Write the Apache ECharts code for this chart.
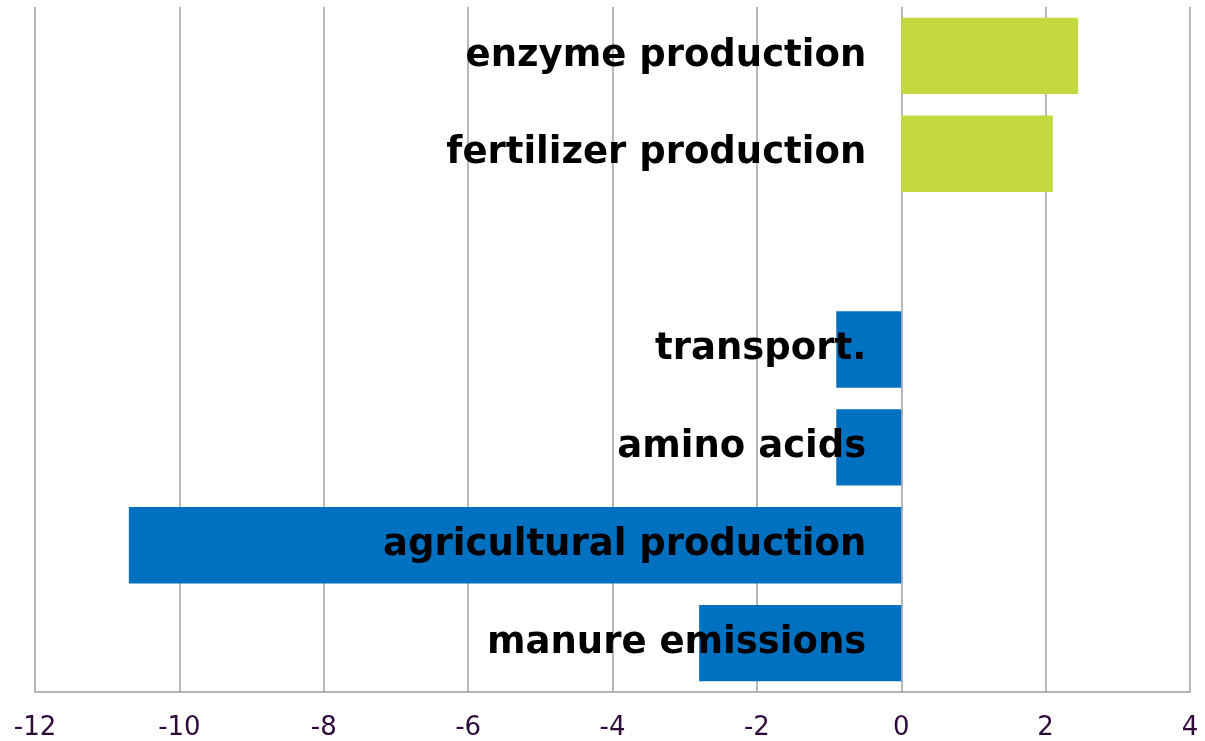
<!DOCTYPE html>
<html>
<head>
<meta charset="utf-8">
<script src="https://cdn.jsdelivr.net/npm/echarts@6/dist/echarts.min.js"></script>
<style>
  html, body { margin: 0; padding: 0; background: #fff; }
  #chart { width: 1205px; height: 741px; }
</style>
</head>
<body>
<div id="chart"></div>
<script>
// bottom to top, '' is the empty slot between the two groups
var categories = ['manure emissions', 'agricultural production', 'amino acids', 'transport.', '', 'fertilizer production', 'enzyme production'];
var values = [-2.8, -10.7, -0.9, -0.9, null, 2.1, 2.45];
var xTicks = [-12, -10, -8, -6, -4, -2, 0, 2, 4];

var gridColor = '#a09ca4';
var gridLeft = 35;

var barData = values.map(function (v) {
    if (v === null) return '-';
    return {
        value: v,
        itemStyle: { color: v >= 0 ? '#c4d93f' : '#0070c0' }
    };
});

var myChart = echarts.init(document.getElementById('chart'));
myChart.setOption({
    animation: false,
    grid: { left: gridLeft, right: 15, top: 7, bottom: 49, containLabel: false, outerBoundsMode: 'none' },
    xAxis: {
        type: 'value',
        min: xTicks[0],
        max: xTicks[xTicks.length - 1],
        interval: 2,
        axisLine: { show: true, lineStyle: { color: gridColor, width: 1.5 } },
        axisTick: { show: false },
        splitLine: { show: true, lineStyle: { color: gridColor, width: 1.5 } },
        axisLabel: {
            margin: 23,
            fontFamily: 'DejaVu Sans',
            fontSize: 26,
            color: '#2e0b3b'
        }
    },
    yAxis: {
        type: 'category',
        data: categories,
        z: 10,
        axisLine: { show: false },
        axisTick: { show: false },
        axisLabel: {
            margin: 35,
            padding: [6, 0, 0, 0],
            fontFamily: 'DejaVu Sans',
            fontWeight: 'bold',
            fontSize: 37,
            color: '#000'
        }
    },
    series: [{
        type: 'bar',
        data: barData,
        barCategoryGap: '22%'
    }]
});

// move the category labels so they sit just left of the zero line
var zeroX = myChart.convertToPixel({ xAxisIndex: 0 }, 0);
myChart.setOption({ yAxis: { offset: -(zeroX - gridLeft) } });
</script>
</body>
</html>
